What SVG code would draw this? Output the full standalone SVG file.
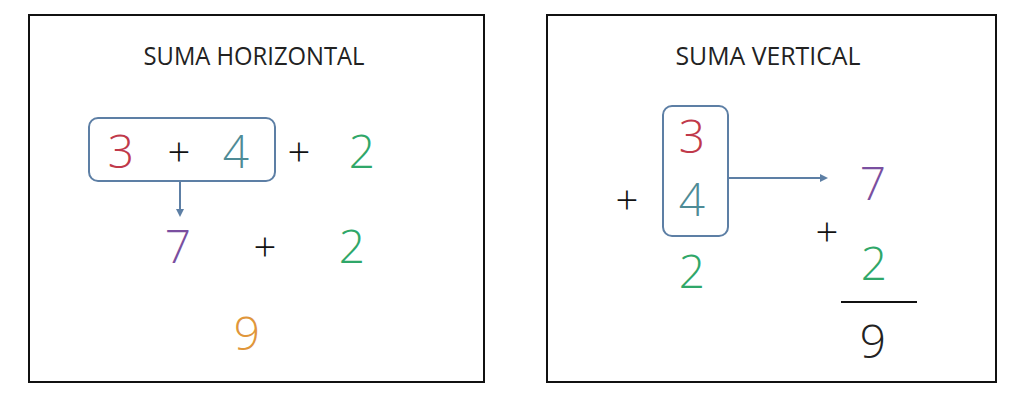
<svg xmlns="http://www.w3.org/2000/svg" width="1024" height="401" viewBox="0 0 1024 401">
<style>
.frame{fill:#fff;stroke:#111;stroke-width:2}
.title{font-family:"Open Sans","DejaVu Sans",sans-serif;font-size:25px;font-weight:400;fill:#222}
.d{font-family:"Open Sans","DejaVu Sans",sans-serif;font-size:46px;font-weight:300;text-anchor:middle}
.p{font-family:"Open Sans","DejaVu Sans",sans-serif;font-size:40px;font-weight:300;text-anchor:middle;fill:#111}
.box{fill:none;stroke:#5d7fa5;stroke-width:2}
.conn{stroke:#5d7fa5;stroke-width:2;fill:none}
.red{fill:#c0394a}.teal{fill:#4e8b96}.green{fill:#2fa769}.purple{fill:#7a4fa0}.orange{fill:#e0963a}.black{fill:#222}
</style>
<defs>
<marker id="ah" markerWidth="8" markerHeight="8" refX="6" refY="4" orient="auto" markerUnits="userSpaceOnUse">
<path d="M0,0 L8,4 L0,8 Z" fill="#5d7fa5"/>
</marker>
</defs>
<rect width="1024" height="401" fill="#fff"/>
<g id="panel-horizontal">
<rect class="frame" x="29" y="15" width="455" height="367"/>
<text class="title" x="254" y="65" text-anchor="middle" textLength="221" lengthAdjust="spacingAndGlyphs">SUMA HORIZONTAL</text>
</g>
<g id="h-group">
<rect class="box" x="89" y="118" width="186" height="63" rx="9"/>
<text class="d red" x="121" y="168">3</text>
<text class="p" x="179" y="166">+</text>
<text class="d teal" x="236" y="168">4</text>
</g>
<g id="h-plus2">
<text class="p" x="299" y="166">+</text>
<text class="d green" x="362" y="168">2</text>
</g>
<g id="h-row2">
<text class="d purple" x="178" y="263">7</text>
<text class="p" x="265" y="261">+</text>
<text class="d green" x="352" y="263">2</text>
</g>
<g id="h-result">
<text class="d orange" x="247" y="350">9</text>
</g>
<g id="panel-vertical">
<rect class="frame" x="547" y="15" width="449" height="367"/>
<text class="title" x="768" y="65" text-anchor="middle" textLength="185" lengthAdjust="spacingAndGlyphs">SUMA VERTICAL</text>
</g>
<g id="v-group">
<rect class="box" x="663" y="106" width="65" height="130" rx="9"/>
<text class="d red" x="692" y="153">3</text>
<text class="d teal" x="692" y="216">4</text>
</g>
<g id="v-col1">
<text class="p" x="627" y="214">+</text>
<text class="d green" x="692" y="288">2</text>
</g>
<g id="v-col2">
<text class="d purple" x="873" y="200">7</text>
<text class="p" x="827" y="246">+</text>
<text class="d green" x="874" y="280">2</text>
<line x1="841" y1="302" x2="917" y2="302" stroke="#111" stroke-width="2"/>
<text class="d black" x="873" y="358">9</text>
</g>
<g id="connectors">
<line class="conn" x1="180" y1="181" x2="180" y2="215" marker-end="url(#ah)"/>
<line class="conn" x1="728" y1="178" x2="826" y2="178" marker-end="url(#ah)"/>
</g>
</svg>
